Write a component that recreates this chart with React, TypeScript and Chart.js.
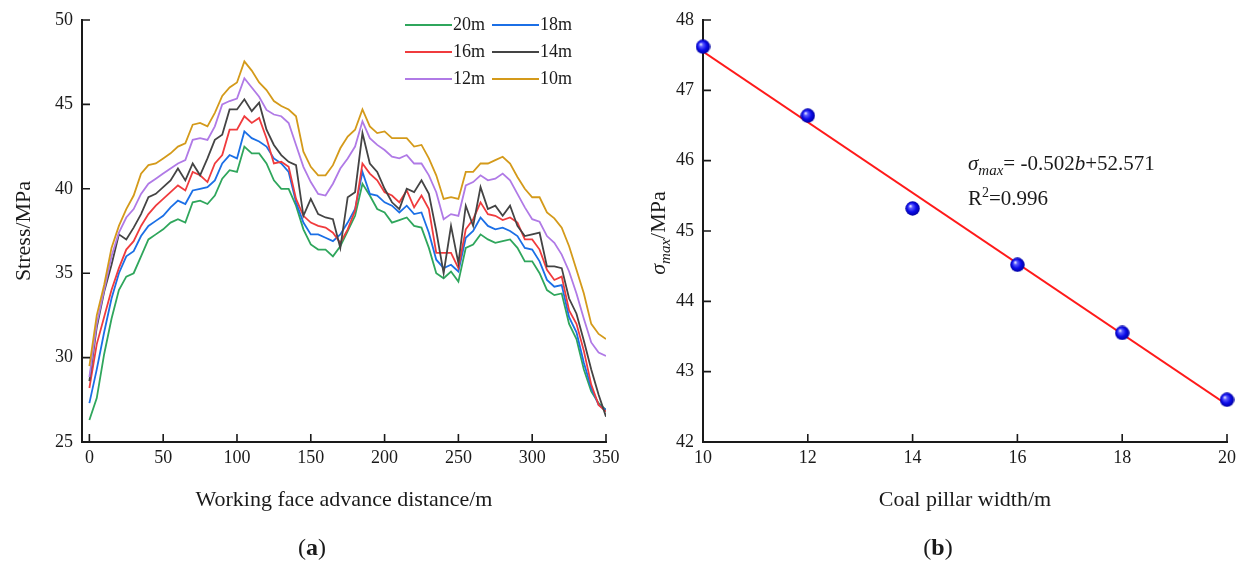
import React, { useEffect, useRef } from "react";
import { Chart, registerables } from "chart.js";

Chart.register(...registerables);

// ---------- Panel (a) data ----------
const distance = [
  0, 5, 10, 15, 20, 25, 30, 35, 40, 45,
  50, 55, 60, 65, 70, 75, 80, 85, 90, 95,
  100, 105, 110, 115, 120, 125, 130, 135, 140, 145,
  150, 155, 160, 165, 170, 175, 180, 185, 190, 195,
  200, 205, 210, 215, 220, 225, 230, 235, 240, 245,
  250, 255, 260, 265, 270, 275, 280, 285, 290, 295,
  300, 305, 310, 315, 320, 325, 330, 335, 340, 345,
  350,
];

const stress20m = [
  26.3, 27.6, 30.2, 32.3, 34.0, 34.8, 35.0, 36.0, 37.0, 37.3,
  37.6, 38.0, 38.2, 38.0, 39.2, 39.3, 39.1, 39.6, 40.6, 41.1,
  41.0, 42.5, 42.1, 42.1, 41.5, 40.5, 40.0, 40.0, 39.0, 37.6,
  36.7, 36.4, 36.4, 36.0, 36.6, 37.5, 38.4, 40.3, 39.6, 38.8,
  38.6, 38.0, 38.15, 38.3, 37.8, 37.7, 36.5, 35.0, 34.7, 35.1,
  34.5, 36.5, 36.7, 37.3, 37.0, 36.8, 36.9, 37.0, 36.5, 35.7,
  35.7, 35.0, 34.0, 33.7, 33.8, 32.0, 31.1, 29.3, 28.0, 27.3,
  26.9,
];
const stress18m = [
  27.3, 29.3, 31.5, 33.5, 35.0, 36.0, 36.3, 37.2, 37.8, 38.1,
  38.4, 38.9, 39.3, 39.1, 39.9, 40.0, 40.1, 40.5, 41.5, 42.0,
  41.8, 43.4, 43.0, 42.8, 42.5, 41.8, 41.5, 41.0, 39.2, 38.0,
  37.3, 37.3, 37.1, 36.9, 37.3, 38.0, 38.8, 41.0, 39.7, 39.6,
  39.2, 39.0, 38.6, 39.0, 38.5, 38.6, 37.4, 35.8, 35.3, 35.5,
  35.1, 37.1, 37.5, 38.3, 37.8, 37.6, 37.7, 37.5, 37.2, 36.5,
  36.4, 35.7, 34.6, 34.2, 34.3, 32.4, 31.5, 29.7, 28.2, 27.2,
  26.9,
];
const stress16m = [
  28.2, 30.8, 32.4, 34.0, 35.3, 36.4, 36.9, 37.8, 38.5, 39.0,
  39.4, 39.8, 40.2, 39.9, 41.0, 40.8, 40.4, 41.5, 42.0, 43.5,
  43.5, 44.3, 43.9, 44.2, 43.0, 41.5, 41.6, 41.3, 39.4, 38.4,
  38.0, 37.8, 37.7, 37.4, 36.8, 37.6, 38.7, 41.5, 40.9, 40.5,
  39.8, 39.6, 39.2, 39.9, 38.9, 39.6, 38.8, 36.2, 36.2, 36.2,
  35.3, 37.6, 38.2, 39.2, 38.5, 38.4, 38.15, 38.3, 38.0, 37.0,
  37.0, 36.4, 35.2, 34.6, 34.8, 32.8, 32.0, 30.4, 28.4, 27.2,
  26.8,
];
const stress14m = [
  28.6, 31.8, 33.9, 35.5, 37.3, 37.0, 37.7, 38.5, 39.5, 39.7,
  40.1, 40.5, 41.2, 40.5, 41.5, 40.8, 41.8, 42.9, 43.2, 44.7,
  44.7, 45.3, 44.6, 45.1, 43.5, 42.6, 42.0, 41.6, 41.4, 38.4,
  39.4, 38.5, 38.3, 38.2, 36.5, 39.5, 39.8, 43.3, 41.5, 41.0,
  40.0, 39.2, 38.8, 40.0, 39.8, 40.5, 39.7, 37.5, 35.0, 37.8,
  35.6, 39.0, 37.8, 40.1, 38.8, 39.0, 38.4, 39.0, 37.8, 37.2,
  37.3, 37.4, 35.4, 35.4, 35.3, 33.5, 32.6, 31.0, 29.3, 27.8,
  26.5,
];
const stress12m = [
  28.85, 32.0, 34.0, 36.0, 37.4, 38.3, 38.8, 39.7, 40.3, 40.6,
  40.9, 41.2, 41.5, 41.7, 42.9, 43.0, 42.9, 43.7, 45.0, 45.2,
  45.35, 46.55, 46.0, 45.45, 44.67, 44.4, 44.3, 43.9, 42.6, 41.3,
  40.4, 39.7, 39.6, 40.3, 41.2, 41.8, 42.5, 44.0, 43.0, 42.6,
  42.3, 41.9, 41.8, 42.0, 41.5, 41.5, 40.8, 39.8, 38.2, 38.5,
  38.4, 40.2, 40.4, 40.8, 40.5, 40.6, 40.9, 40.5, 39.7, 38.9,
  38.2, 38.05, 37.2, 36.8, 36.1, 35.1, 33.8, 32.3, 30.9, 30.3,
  30.1,
];
const stress10m = [
  29.5, 32.5, 34.3, 36.5, 37.8, 38.8, 39.6, 40.9, 41.4, 41.5,
  41.8, 42.1, 42.5, 42.7, 43.8, 43.9, 43.7, 44.5, 45.5, 46.0,
  46.3, 47.55, 47.0, 46.3, 45.85, 45.2, 44.9, 44.7, 44.3, 42.2,
  41.3, 40.8, 40.8, 41.4, 42.4, 43.1, 43.5, 44.7, 43.7, 43.3,
  43.4, 43.0, 43.0, 43.0, 42.5, 42.6, 41.8, 40.8, 39.4, 39.5,
  39.4, 41.0, 41.0, 41.5, 41.5, 41.7, 41.9, 41.5, 40.7, 40.0,
  39.5, 39.5, 38.6, 38.25, 37.7, 36.6, 35.2, 33.8, 32.0, 31.4,
  31.1,
];

const seriesLabels = ["20m", "18m", "16m", "14m", "12m", "10m"];
const seriesValues = [stress20m, stress18m, stress16m, stress14m, stress12m, stress10m];
const seriesColors = ["#2fa65c", "#1b6fe6", "#f03b3d", "#444444", "#b07ae6", "#d49a1a"];

const distanceTicks = [0, 50, 100, 150, 200, 250, 300, 350];
const stressTicks = [25, 30, 35, 40, 45, 50];

// ---------- Panel (b) data ----------
const pillarWidth = [10, 12, 14, 16, 18, 20];
const sigmaMax = [47.62, 46.64, 45.32, 44.52, 43.55, 42.6];
const fitWidth = [10, 20];
const fitSigma = [47.55, 42.53];
const widthTicks = [10, 12, 14, 16, 18, 20];
const sigmaTicks = [42, 43, 44, 45, 46, 47, 48];

const FONT = "'Liberation Serif', 'Times New Roman', serif";
const INK = "#1a1a1a";

function setTicks(values: number[]) {
  return (scale: any) => {
    scale.ticks = values.map((v) => ({ value: v }));
  };
}

const inwardTicks = {
  id: "inwardTicks",
  afterDraw(chart: any) {
    const { ctx, chartArea } = chart;
    const xs = chart.scales.x;
    const ys = chart.scales.y;
    ctx.save();
    ctx.strokeStyle = INK;
    ctx.lineWidth = 1.6;
    ctx.beginPath();
    xs.ticks.forEach((t: any) => {
      const p = xs.getPixelForValue(t.value);
      ctx.moveTo(p, chartArea.bottom);
      ctx.lineTo(p, chartArea.bottom - 8);
    });
    ys.ticks.forEach((t: any) => {
      const p = ys.getPixelForValue(t.value);
      ctx.moveTo(chartArea.left, p);
      ctx.lineTo(chartArea.left + 8, p);
    });
    ctx.stroke();
    ctx.restore();
  },
};

const gridLegend = {
  id: "gridLegend",
  afterDraw(chart: any, _args: any, opts: any) {
    if (!opts || !opts.show) return;
    const { ctx } = chart;
    ctx.save();
    ctx.font = `18px ${FONT}`;
    ctx.textBaseline = "middle";
    ctx.textAlign = "left";
    chart.data.datasets.forEach((d: any, i: number) => {
      const col = i % 2;
      const row = Math.floor(i / 2);
      const x0 = opts.x + col * opts.colWidth;
      const y = opts.y + row * opts.rowHeight;
      ctx.strokeStyle = d.borderColor;
      ctx.lineWidth = 2;
      ctx.beginPath();
      ctx.moveTo(x0, y);
      ctx.lineTo(x0 + opts.lineLength, y);
      ctx.stroke();
      ctx.fillStyle = INK;
      ctx.fillText(d.label, x0 + opts.lineLength + 1, y);
    });
    ctx.restore();
  },
};

type Run = { t: string; f: string; dy?: number };
function drawRuns(ctx: CanvasRenderingContext2D, x: number, y: number, runs: Run[], center = false) {
  let total = 0;
  runs.forEach((r) => {
    ctx.font = r.f;
    total += ctx.measureText(r.t).width;
  });
  let cx = center ? x - total / 2 : x;
  runs.forEach((r) => {
    ctx.font = r.f;
    ctx.fillText(r.t, cx, y + (r.dy || 0));
    cx += ctx.measureText(r.t).width;
  });
}

const rightTexts = {
  id: "rightTexts",
  afterDraw(chart: any) {
    const { ctx } = chart;
    ctx.save();
    ctx.fillStyle = INK;
    ctx.textBaseline = "alphabetic";
    ctx.textAlign = "left";
    // y-axis title (rotated)
    ctx.save();
    ctx.translate(45, 233);
    ctx.rotate(-Math.PI / 2);
    drawRuns(
      ctx,
      0,
      0,
      [
        { t: "σ", f: `italic 22px ${FONT}` },
        { t: "max", f: `italic 15px ${FONT}`, dy: 5 },
        { t: "/MPa", f: `22px ${FONT}` },
      ],
      true
    );
    ctx.restore();
    // regression equation
    drawRuns(ctx, 348, 170, [
      { t: "σ", f: `italic 21px ${FONT}` },
      { t: "max", f: `italic 15px ${FONT}`, dy: 5 },
      { t: "= -0.502", f: `21px ${FONT}` },
      { t: "b", f: `italic 21px ${FONT}` },
      { t: "+52.571", f: `21px ${FONT}` },
    ]);
    drawRuns(ctx, 348, 205, [
      { t: "R", f: `21px ${FONT}` },
      { t: "2", f: `14px ${FONT}`, dy: -8 },
      { t: "=0.996", f: `21px ${FONT}` },
    ]);
    ctx.restore();
  },
};

function makeSphere(): HTMLCanvasElement {
  const c = document.createElement("canvas");
  c.width = 15;
  c.height = 15;
  const g = c.getContext("2d")!;
  const grad = g.createRadialGradient(5.2, 5.0, 0.3, 7.5, 7.5, 7.5);
  grad.addColorStop(0, "#eef0ff");
  grad.addColorStop(0.22, "#5c5cff");
  grad.addColorStop(0.6, "#0a0ae8");
  grad.addColorStop(1, "#00009a");
  g.fillStyle = grad;
  g.beginPath();
  g.arc(7.5, 7.5, 7.2, 0, Math.PI * 2);
  g.fill();
  return c;
}

function axisCommon(tickValues: number[], min: number, max: number, isX: boolean, title?: string) {
  return {
    type: "linear" as const,
    min,
    max,
    afterBuildTicks: setTicks(tickValues),
    afterFit: (scale: any) => {
      if (isX) {
        scale.height = 71;
        scale.paddingLeft = 0;
        scale.paddingRight = 0;
      } else {
        scale.width = scale.chart.canvas.id === "panelB" ? 72 : 71;
        scale.paddingTop = 0;
        scale.paddingBottom = 0;
      }
    },
    grid: { display: false, drawTicks: false },
    border: { display: true, color: INK, width: 2 },
    ticks: {
      color: INK,
      font: { family: FONT, size: 18 },
      padding: isX ? 5 : 9,
      maxRotation: 0,
      autoSkip: false,
    },
    title: title
      ? { display: true, text: title, color: INK, font: { family: FONT, size: 22 }, padding: 0 }
      : { display: false },
  };
}

export default function App() {
  const leftRef = useRef<HTMLCanvasElement | null>(null);
  const rightRef = useRef<HTMLCanvasElement | null>(null);

  useEffect(() => {
    const left = new Chart(leftRef.current!, {
      type: "line",
      data: {
        datasets: seriesLabels.map((label, i) => ({
          label,
          data: distance.map((x, j) => ({ x, y: seriesValues[i][j] })),
          borderColor: seriesColors[i],
          borderWidth: 1.8,
          pointRadius: 0,
          tension: 0,
          fill: false,
          order: seriesLabels.length - i,
        })),
      },
      options: {
        responsive: false,
        animation: false,
        layout: { padding: { left: 11, right: 14, top: 20, bottom: 57 } },
        plugins: {
          legend: { display: false },
          tooltip: { enabled: false },
          gridLegend: { show: true, x: 405, y: 25, colWidth: 87, rowHeight: 27, lineLength: 47 },
        } as any,
        scales: {
          x: axisCommon(distanceTicks, -5, 350, true, "Working face advance distance/m"),
          y: axisCommon(stressTicks, 25, 50, false, "Stress/MPa"),
        },
      },
      plugins: [inwardTicks, gridLegend],
    });

    const sphere = makeSphere();
    const right = new Chart(rightRef.current!, {
      type: "scatter",
      data: {
        datasets: [
          {
            label: "σmax",
            data: pillarWidth.map((x, i) => ({ x, y: sigmaMax[i] })),
            pointStyle: sphere as any,
            pointRadius: 7,
            clip: false as any,
            order: 0,
          },
          {
            label: "fit",
            data: fitWidth.map((x, i) => ({ x, y: fitSigma[i] })),
            showLine: true,
            borderColor: "#ff1a1a",
            borderWidth: 2,
            pointRadius: 0,
            order: 1,
          } as any,
        ],
      },
      options: {
        responsive: false,
        animation: false,
        layout: { padding: { left: 11, right: 19, top: 20, bottom: 57 } },
        plugins: { legend: { display: false }, tooltip: { enabled: false } },
        scales: {
          x: axisCommon(widthTicks, 10, 20, true, "Coal pillar width/m"),
          y: axisCommon(sigmaTicks, 42, 48, false),
        },
      },
      plugins: [inwardTicks, rightTexts],
    });

    return () => {
      left.destroy();
      right.destroy();
    };
  }, []);

  const capStyle: React.CSSProperties = {
    position: "absolute",
    top: 547,
    transform: "translate(-50%, -50%)",
    fontFamily: FONT,
    fontSize: 24,
    lineHeight: 1,
    color: INK,
    whiteSpace: "nowrap",
  };

  return (
    <div style={{ position: "absolute", left: 0, top: 0, width: 1246, height: 570, background: "#fff", overflow: "hidden" }}>
      <canvas id="panelA" ref={leftRef} width={620} height={570} style={{ position: "absolute", left: 0, top: 0 }} />
      <canvas id="panelB" ref={rightRef} width={626} height={570} style={{ position: "absolute", left: 620, top: 0 }} />
      <div style={{ ...capStyle, left: 312 }}>
        (<b>a</b>)
      </div>
      <div style={{ ...capStyle, left: 938 }}>
        (<b>b</b>)
      </div>
    </div>
  );
}
